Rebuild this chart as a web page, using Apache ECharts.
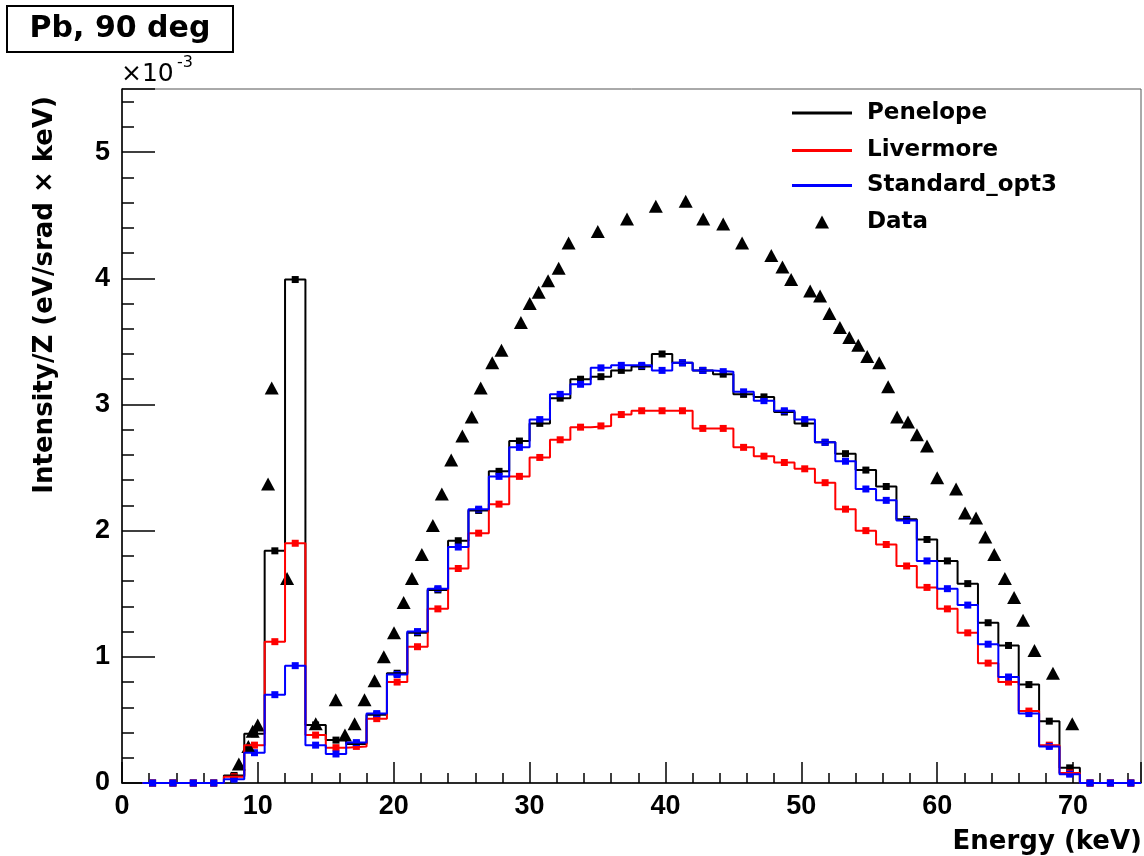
<!DOCTYPE html>
<html>
<head>
<meta charset="utf-8">
<script src="https://cdn.jsdelivr.net/npm/echarts@6/dist/echarts.min.js"></script>
<style>
html,body{margin:0;padding:0;background:#ffffff;}
#chart{width:1144px;height:856px;}
</style>
</head>
<body>
<div id="chart"></div>
<script>
// Intensity/Z in units of 1e-3 eV/(srad x keV); histogram bins of 1.5 keV starting at 1.5 keV
const binWidth = 1.5;
const firstBinLow = 1.5;
const penelope = [0,0,0,0,0.06,0.39,1.84,3.99,0.46,0.34,0.31,0.54,0.87,1.19,1.53,1.92,2.16,2.47,2.71,2.85,3.05,3.20,3.22,3.27,3.30,3.40,3.33,3.27,3.24,3.08,3.06,2.94,2.85,2.70,2.61,2.48,2.35,2.09,1.93,1.76,1.58,1.27,1.09,0.78,0.49,0.12,0,0,0];
const livermore = [0,0,0,0,0.05,0.30,1.12,1.90,0.38,0.28,0.29,0.51,0.80,1.08,1.38,1.70,1.98,2.21,2.43,2.58,2.72,2.82,2.83,2.92,2.95,2.95,2.95,2.81,2.81,2.66,2.59,2.54,2.49,2.38,2.17,2.00,1.89,1.72,1.55,1.38,1.19,0.95,0.80,0.57,0.30,0.08,0,0,0];
const standardOpt3 = [0,0,0,0,0.03,0.24,0.70,0.93,0.30,0.23,0.32,0.55,0.86,1.20,1.54,1.87,2.17,2.43,2.66,2.88,3.08,3.16,3.29,3.31,3.31,3.27,3.33,3.27,3.26,3.10,3.03,2.95,2.88,2.70,2.55,2.33,2.24,2.08,1.76,1.54,1.41,1.10,0.84,0.55,0.29,0.07,0,0,0];
// measured data points
const dataEnergy = [8.60,9.30,9.62,9.99,10.75,11.02,12.15,14.26,15.73,16.41,17.12,17.85,18.59,19.27,20.02,20.73,21.34,22.07,22.88,23.54,24.23,25.05,25.74,26.40,27.25,27.93,29.36,30.01,30.67,31.36,32.14,32.87,35.02,37.17,39.29,41.49,42.78,44.25,45.64,47.79,48.61,49.25,50.65,51.38,52.07,52.84,53.53,54.19,54.85,55.73,56.39,57.05,57.85,58.51,59.25,60.00,61.39,62.05,62.86,63.54,64.20,64.98,65.66,66.32,67.16,68.52,69.94];
const dataIntensity = [0.15,0.29,0.41,0.46,2.37,3.13,1.62,0.47,0.66,0.38,0.47,0.66,0.81,1.00,1.19,1.43,1.62,1.81,2.04,2.29,2.56,2.75,2.90,3.13,3.33,3.43,3.65,3.80,3.89,3.98,4.08,4.28,4.37,4.47,4.57,4.61,4.47,4.43,4.28,4.18,4.09,3.99,3.90,3.86,3.72,3.61,3.53,3.47,3.38,3.33,3.14,2.90,2.86,2.76,2.67,2.42,2.33,2.14,2.10,1.95,1.81,1.62,1.47,1.29,1.05,0.87,0.47];
const seriesNames = ['Penelope','Livermore','Standard_opt3','Data'];
const seriesColors = ['#000000','#ff0000','#0000ff','#000000'];

function stepData(vals){
  const out = vals.map((v,i)=>[firstBinLow + i*binWidth, v]);
  out.push([firstBinLow + vals.length*binWidth, vals[vals.length-1]]);
  return out;
}
function centerData(vals){
  return vals.map((v,i)=>[firstBinLow + (i+0.5)*binWidth, v]);
}

const hists = [penelope, livermore, standardOpt3];
const series = [];
hists.forEach((h,idx)=>{
  series.push({
    name: seriesNames[idx], type:'line', step:'end', data: stepData(h),
    showSymbol:false, symbol:'none', silent:true,
    lineStyle:{color:seriesColors[idx], width:2, opacity:1},
    itemStyle:{color:seriesColors[idx], opacity:1}
  });
  series.push({
    name: seriesNames[idx], type:'scatter', data: centerData(h),
    symbol:'rect', symbolSize:7, silent:true,
    itemStyle:{color:seriesColors[idx], opacity:1}
  });
});
series.push({
  name:'Data', type:'scatter', data: dataEnergy.map((e,i)=>[e, dataIntensity[i]]),
  symbol:'triangle', symbolSize:[14,13], silent:true,
  itemStyle:{color:'#000000', opacity:1}
});

const wordFont = 'DejaVu Sans';
const digitFont = 'Liberation Sans';
function legendFor(name, top, isData){
  return {
    data:[{name:name, icon: isData ? 'triangle' : 'rect'}],
    left: isData ? 815 : 792, top: top,
    orient:'vertical', padding:0, selectedMode:false,
    itemWidth: isData ? 14 : 60, itemHeight: isData ? 13 : 3,
    itemStyle:{opacity:1},
    textStyle:{fontFamily:wordFont, fontWeight:'bold', fontSize:23, color:'#000', padding: isData ? [0,0,0,33] : [0,0,0,10]}
  };
}

const chart = echarts.init(document.getElementById('chart'), null, {renderer:'canvas'});
chart.setOption({
  animation:false,
  backgroundColor:'#ffffff',
  grid:{left:122, top:89, right:-2, bottom:73, show:true, borderColor:'#555', borderWidth:1, containLabel:false},
  legend:[
    legendFor('Penelope', 101.5, false),
    legendFor('Livermore', 139, false),
    legendFor('Standard_opt3', 174, false),
    legendFor('Data', 210.5, true)
  ],
  xAxis:{
    type:'value', min:0, max:75, interval:10,
    axisLine:{show:true, lineStyle:{color:'#000', width:1.5}},
    axisTick:{show:true, inside:true, length:21, lineStyle:{color:'#000', width:1.5}},
    minorTick:{show:true, splitNumber:5, length:10, lineStyle:{color:'#000', width:1.5}},
    splitLine:{show:false},
    axisLabel:{color:'#000', fontFamily:digitFont, fontWeight:'bold', fontSize:27, margin:10,
      formatter:function(v){ return (v % 10 === 0) ? String(v) : ''; }}
  },
  yAxis:{
    type:'value', min:0, max:5.5, interval:1,
    axisLine:{show:true, lineStyle:{color:'#000', width:1.5}},
    axisTick:{show:true, inside:true, length:33, lineStyle:{color:'#000', width:1.5}},
    minorTick:{show:true, splitNumber:5, length:12, lineStyle:{color:'#000', width:1.5}},
    splitLine:{show:false},
    axisLabel:{color:'#000', fontFamily:digitFont, fontWeight:'bold', fontSize:27, margin:12,
      formatter:function(v){ return Number.isInteger(v) ? String(v) : ''; }}
  },
  graphic:[
    {type:'rect', shape:{x:7, y:6, width:226, height:46}, style:{fill:'#fff', stroke:'#000', lineWidth:2}, z:10},
    {type:'text', x:120, y:29, z:11, style:{text:'Pb, 90 deg', font:'bold 30px "DejaVu Sans"', fill:'#000', align:'center', verticalAlign:'middle'}},
    {type:'text', x:121, y:74, z:11, style:{text:'×10', font:'25px "DejaVu Sans"', fill:'#000', align:'left', verticalAlign:'middle'}},
    {type:'text', x:177, y:63, z:11, style:{text:'-3', font:'16px "DejaVu Sans"', fill:'#000', align:'left', verticalAlign:'middle'}},
    {type:'text', x:45, y:96, rotation:Math.PI/2, z:11, style:{text:'Intensity/Z (eV/srad × keV)', font:'bold 26px "DejaVu Sans"', fill:'#000', align:'right', verticalAlign:'middle'}},
    {type:'text', x:1142, y:842, z:11, style:{text:'Energy (keV)', font:'bold 26px "DejaVu Sans"', fill:'#000', align:'right', verticalAlign:'middle'}}
  ],
  series: series
});
</script>
</body>
</html>
